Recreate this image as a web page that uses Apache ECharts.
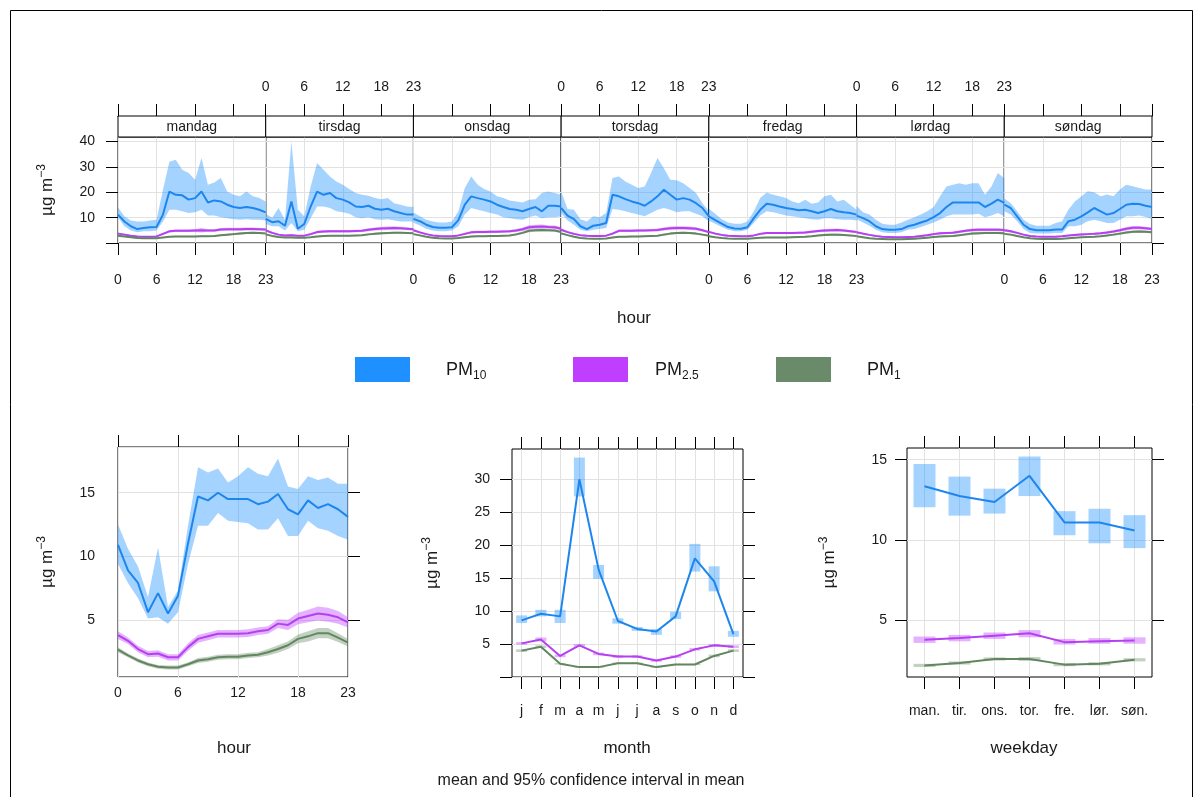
<!DOCTYPE html>
<html>
<head>
<meta charset="utf-8">
<title>timeVariation PM</title>
<script src="https://cdn.jsdelivr.net/npm/echarts@6/dist/echarts.min.js"></script>
<style>
html,body{margin:0;padding:0;background:#fff}
#main{width:1203px;height:797px}
</style>
</head>
<body>
<div id="main"></div>
<script>
// ---- labels ----
var hours = ['0','1','2','3','4','5','6','7','8','9','10','11','12','13','14','15','16','17','18','19','20','21','22','23'];
var dayNames = ['mandag','tirsdag','onsdag','torsdag','fredag','lørdag','søndag'];
var monthLabels = ['j','f','m','a','m','j','j','a','s','o','n','d'];
var weekdayLabels = ['man.','tir.','ons.','tor.','fre.','lør.','søn.'];

// ---- day x hour, PM10 (mean, lower, upper) ----
var pm10Day = [
  [11.2,8.5,6.6,5.5,5.9,6.2,6.3,11.2,20.3,19.0,18.8,17.1,17.7,20.3,16.0,16.8,16.4,15.1,14.2,13.8,14.2,13.8,13.1,12.1],
  [9.5,8.2,8.6,6.8,16.4,5.6,7.5,14.4,20.3,19.0,19.7,17.7,17.1,16.0,14.4,14.2,14.7,13.5,13.1,13.5,12.5,11.8,11.2,11.2],
  [9.5,8.6,7.2,6.3,6.0,6.0,6.2,9.0,15.1,18.4,17.7,17.1,16.4,15.1,14.2,13.4,13.1,12.5,13.4,14.2,12.5,14.7,14.7,14.4],
  [13.8,10.8,9.4,6.6,5.5,6.8,7.2,7.9,19.0,18.4,17.3,16.4,15.7,14.7,16.4,18.4,21.0,19.0,17.1,17.7,17.1,15.7,13.8,10.5],
  [10.5,9.0,7.6,6.3,5.7,5.6,6.2,9.8,13.1,15.5,15.1,14.4,13.8,13.4,12.9,13.1,12.5,11.8,12.5,13.4,12.5,12.1,11.8,11.2],
  [10.8,9.8,8.6,6.6,5.5,5.2,5.2,5.5,6.6,7.2,8.1,8.9,10.2,11.8,14.2,16.0,16.0,16.0,16.0,16.0,14.2,15.5,17.1,15.8],
  [15.1,13.8,10.5,7.2,5.5,5.0,5.0,5.0,5.3,5.3,8.6,9.2,10.5,12.1,13.8,12.5,11.2,11.8,13.4,15.1,15.5,15.4,14.7,14.2]
];
var pm10DayLo = [
  [10.2,6.6,4.9,4.2,4.6,4.6,4.9,8.5,13.1,13.1,12.5,11.8,12.1,13.1,10.8,10.8,10.2,9.8,9.4,9.2,9.4,9.2,9.2,8.9],
  [7.5,6.6,6.6,4.9,7.9,4.6,5.2,9.8,14.4,14.4,13.8,12.5,12.1,11.5,10.2,9.8,10.2,9.4,9.2,9.4,8.9,8.5,8.5,8.5],
  [8.0,6.9,5.6,4.9,4.6,4.6,4.9,6.6,11.2,13.8,13.1,12.5,11.8,11.2,10.2,9.8,9.4,9.2,10.2,10.8,9.8,10.2,10.2,10.5],
  [11.8,8.9,7.2,5.2,4.6,5.2,5.5,5.9,13.4,13.1,12.5,11.8,11.2,10.5,11.8,13.1,13.8,13.1,12.1,12.5,12.5,11.5,10.5,8.5],
  [8.8,7.6,6.3,5.2,4.6,4.6,5.2,7.9,10.8,12.5,12.1,11.5,10.8,10.5,10.2,9.8,9.4,9.2,9.8,9.8,9.4,9.2,9.2,8.9],
  [9.4,8.1,6.8,5.2,4.2,3.9,3.9,4.2,5.2,5.5,6.3,7.2,8.1,9.2,10.5,11.2,11.2,11.2,11.2,11.5,10.2,10.8,11.8,10.5],
  [12.5,11.2,8.6,5.5,3.9,3.7,3.7,3.7,3.9,3.9,6.6,6.6,7.2,8.6,9.2,8.6,7.9,7.9,9.2,10.5,10.5,10.8,10.3,9.5]
];
var pm10DayHi = [
  [14.0,10.5,8.9,8.5,8.5,8.9,9.2,21.0,32.0,32.8,28.9,27.6,24.9,33.5,23.0,23.9,25.6,20.3,19.0,18.4,20.3,18.4,17.7,16.4],
  [11.5,10.0,13.8,9.2,40.0,13.1,10.5,22.3,31.5,28.9,26.2,24.3,23.0,21.3,19.7,19.0,18.6,17.7,17.3,17.7,15.7,15.1,14.4,14.2],
  [12.0,10.5,9.2,8.5,8.1,8.1,8.5,12.5,21.7,26.2,23.0,21.3,20.3,18.4,17.7,16.8,16.4,16.0,17.1,17.3,19.7,20.3,19.7,19.0],
  [20.3,13.4,13.1,9.4,8.5,10.5,10.2,11.8,25.6,26.2,24.3,23.0,21.7,22.3,27.6,33.5,29.5,24.9,24.7,23.6,21.7,19.7,15.7,12.5],
  [13.5,11.5,9.4,8.1,7.6,7.6,8.5,12.5,17.7,19.9,19.0,18.4,17.7,16.4,15.7,17.1,15.5,16.0,18.4,19.0,16.4,17.1,15.1,13.1],
  [14.7,12.1,11.2,9.2,7.6,7.2,7.2,8.1,9.2,10.2,11.2,12.5,14.2,18.4,22.3,23.0,23.6,23.0,23.6,23.6,19.0,22.3,27.6,25.5],
  [17.5,15.8,12.5,9.2,7.5,6.8,6.8,6.8,7.9,8.6,13.2,16.4,18.4,20.4,20.0,18.4,19.1,18.4,21.1,23.0,22.4,21.7,21.1,21.1]
];

// ---- day x hour, PM2.5 and PM1 (mean and half width of interval) ----
var pm25Day = [
  [3.7,3.3,2.9,2.6,2.5,2.5,2.6,3.6,4.6,4.8,4.8,4.8,4.9,5.0,4.9,4.9,5.3,5.4,5.4,5.4,5.5,5.5,5.4,5.3],
  [5.0,4.0,3.3,3.0,3.1,2.9,2.9,3.5,4.3,4.5,4.6,4.6,4.6,4.6,4.7,4.8,5.2,5.5,5.7,5.8,5.9,5.8,5.6,5.4],
  [5.0,4.2,3.5,3.0,2.8,2.7,2.7,3.0,3.6,4.2,4.3,4.3,4.4,4.4,4.5,4.6,4.9,5.4,6.2,6.4,6.5,6.3,6.2,5.6],
  [5.2,4.3,3.6,3.1,2.9,2.8,2.8,2.9,3.7,4.8,4.8,4.8,4.9,4.9,5.0,5.1,5.5,5.8,5.9,5.9,5.8,5.6,5.0,4.3],
  [4.4,3.7,3.2,2.9,2.8,2.7,2.7,3.0,3.6,3.9,3.9,3.9,3.9,3.9,4.0,4.1,4.4,4.7,4.9,5.0,5.1,4.9,4.6,4.3],
  [4.2,3.7,3.2,2.8,2.5,2.4,2.3,2.3,2.4,2.5,2.8,3.1,3.5,3.8,3.9,4.0,4.4,4.8,5.1,5.2,5.2,5.2,5.2,5.1],
  [5.0,4.6,4.0,3.3,2.8,2.6,2.5,2.5,2.5,2.7,3.0,3.2,3.4,3.5,3.6,3.8,4.1,4.5,5.0,5.6,6.0,6.0,5.8,5.5]
];
var pm25DayHalf = [
  [0.4,0.3,0.3,0.3,0.3,0.3,0.3,0.4,0.5,0.5,0.5,0.5,0.6,0.9,0.5,0.5,0.6,0.6,0.6,0.6,0.6,0.6,0.5,0.5],
  [0.5,0.4,0.3,0.3,0.4,0.3,0.3,0.4,0.5,0.5,0.5,0.5,0.5,0.5,0.5,0.5,0.6,0.6,0.7,0.7,0.7,0.6,0.6,0.5],
  [0.5,0.4,0.3,0.3,0.3,0.3,0.3,0.3,0.4,0.5,0.5,0.5,0.5,0.5,0.5,0.5,0.6,0.7,0.8,0.8,0.8,0.7,0.7,0.6],
  [0.5,0.4,0.4,0.3,0.3,0.3,0.3,0.3,0.4,0.5,0.5,0.5,0.5,0.5,0.5,0.6,0.6,0.7,0.7,0.7,0.7,0.6,0.5,0.5],
  [0.4,0.4,0.3,0.3,0.3,0.3,0.3,0.3,0.4,0.4,0.4,0.4,0.4,0.4,0.4,0.5,0.5,0.5,0.6,0.6,0.6,0.5,0.5,0.4],
  [0.4,0.4,0.3,0.3,0.3,0.3,0.3,0.3,0.3,0.3,0.3,0.4,0.4,0.4,0.4,0.5,0.5,0.5,0.6,0.6,0.6,0.6,0.6,0.5],
  [0.5,0.5,0.4,0.3,0.3,0.3,0.3,0.3,0.3,0.3,0.3,0.4,0.4,0.4,0.4,0.4,0.5,0.5,0.6,0.7,0.7,0.7,0.6,0.6]
];
var pm1Day = [
  [2.9,2.6,2.3,2.0,1.9,1.9,1.9,2.2,2.5,2.6,2.6,2.6,2.6,2.7,2.7,2.8,3.1,3.3,3.5,3.7,3.9,4.0,3.9,3.7],
  [3.4,2.8,2.4,2.2,2.2,2.1,2.1,2.3,2.6,2.8,2.9,2.9,2.9,2.9,3.0,3.1,3.4,3.6,3.8,3.9,4.0,4.0,3.9,3.8],
  [3.5,3.0,2.5,2.1,1.9,1.8,1.8,2.0,2.3,2.6,2.7,2.7,2.8,2.8,2.9,3.0,3.4,4.0,4.8,5.0,5.1,5.0,4.9,4.3],
  [3.8,3.1,2.5,2.0,1.8,1.7,1.7,1.8,2.2,2.5,2.5,2.6,2.6,2.7,2.8,2.9,3.3,3.7,3.9,4.0,3.9,3.7,3.3,2.9],
  [2.7,2.3,2.0,1.8,1.7,1.7,1.7,1.9,2.1,2.2,2.2,2.2,2.2,2.3,2.4,2.5,2.7,3.0,3.2,3.3,3.3,3.2,3.0,2.8],
  [2.7,2.3,1.9,1.7,1.6,1.5,1.5,1.5,1.6,1.7,1.9,2.1,2.4,2.6,2.7,2.8,3.1,3.4,3.7,3.8,3.9,3.9,3.9,3.8],
  [3.6,3.3,2.8,2.3,1.9,1.7,1.6,1.6,1.6,1.7,1.9,2.1,2.3,2.4,2.5,2.7,3.0,3.3,3.7,4.1,4.4,4.5,4.4,4.2]
];
var pm1DayHalf = [
  [0.3,0.2,0.2,0.2,0.2,0.2,0.2,0.2,0.3,0.3,0.3,0.3,0.3,0.3,0.3,0.3,0.3,0.3,0.4,0.4,0.4,0.4,0.4,0.3],
  [0.3,0.3,0.2,0.2,0.2,0.2,0.2,0.2,0.3,0.3,0.3,0.3,0.3,0.3,0.3,0.3,0.3,0.4,0.4,0.4,0.4,0.4,0.4,0.3],
  [0.3,0.3,0.2,0.2,0.2,0.2,0.2,0.2,0.3,0.3,0.3,0.3,0.3,0.3,0.3,0.3,0.4,0.5,0.6,0.6,0.6,0.5,0.5,0.4],
  [0.4,0.3,0.3,0.2,0.2,0.2,0.2,0.2,0.3,0.3,0.3,0.3,0.3,0.3,0.3,0.3,0.4,0.4,0.4,0.4,0.4,0.4,0.3,0.3],
  [0.3,0.2,0.2,0.2,0.2,0.2,0.2,0.2,0.2,0.3,0.3,0.3,0.3,0.3,0.3,0.3,0.3,0.3,0.4,0.4,0.4,0.3,0.3,0.3],
  [0.3,0.2,0.2,0.2,0.2,0.2,0.2,0.2,0.2,0.2,0.2,0.2,0.3,0.3,0.3,0.3,0.3,0.4,0.4,0.4,0.4,0.4,0.4,0.4],
  [0.4,0.3,0.3,0.2,0.2,0.2,0.2,0.2,0.2,0.2,0.2,0.2,0.3,0.3,0.3,0.3,0.3,0.4,0.4,0.5,0.5,0.5,0.5,0.4]
];

// ---- hour of day ----
var pm10Hour   = [10.9,8.9,7.9,5.6,7.1,5.5,6.9,11.0,14.7,14.4,15.0,14.5,14.5,14.5,14.1,14.3,14.9,13.7,13.3,14.4,13.8,14.1,13.7,13.1];
var pm10HourLo = [9.4,7.9,6.7,5.1,5.2,4.7,5.6,9.4,12.4,12.4,13.4,12.8,12.7,12.6,12.1,12.1,13.0,11.6,11.6,12.8,12.2,12.0,11.6,11.3];
var pm10HourHi = [12.5,10.6,9.2,6.8,10.7,6.0,7.3,12.4,17.0,16.6,16.9,15.8,16.3,17.0,16.5,16.3,17.7,15.5,15.3,16.3,16.0,16.2,15.7,15.7];
var pm25Hour     = [3.8,3.35,2.7,2.3,2.35,2.05,2.05,2.85,3.5,3.7,3.9,3.9,3.9,3.95,4.1,4.2,4.7,4.6,5.1,5.3,5.5,5.4,5.2,4.8];
var pm25HourHalf = [0.3,0.25,0.25,0.25,0.25,0.25,0.25,0.3,0.3,0.3,0.3,0.3,0.3,0.3,0.3,0.3,0.35,0.4,0.45,0.5,0.55,0.55,0.5,0.4];
var pm1Hour     = [2.65,2.2,1.8,1.5,1.3,1.25,1.25,1.5,1.8,1.9,2.05,2.1,2.1,2.2,2.25,2.45,2.7,3.0,3.5,3.7,3.95,3.95,3.6,3.2];
var pm1HourHalf = [0.2,0.15,0.15,0.15,0.15,0.15,0.15,0.15,0.2,0.2,0.2,0.2,0.2,0.2,0.2,0.25,0.3,0.3,0.35,0.4,0.4,0.4,0.35,0.3];

// ---- month ----
var pm10Month   = [8.6,9.6,9.2,30.0,16.3,8.5,7.3,6.9,9.2,18.0,14.5,6.5];
var pm10MonthLo = [8.2,9.2,8.2,27.4,14.9,8.1,7.0,6.4,8.8,16.0,13.0,6.1];
var pm10MonthHi = [9.35,10.2,10.2,33.3,17.0,8.9,7.6,7.3,9.9,20.2,16.8,7.0];
var pm25Month   = [5.1,5.7,3.2,4.8,3.5,3.1,3.1,2.5,3.1,4.2,4.8,4.6];
var pm25MonthLo = [4.9,5.4,3.0,4.6,3.3,2.9,2.9,2.3,2.9,4.0,4.6,4.4];
var pm25MonthHi = [5.3,6.0,3.4,5.0,3.7,3.3,3.3,2.7,3.3,4.4,5.0,4.8];
var pm1Month    = [4.0,4.6,2.0,1.5,1.5,2.1,2.1,1.5,1.9,1.9,3.2,4.0];
var pm1MonthLo  = [3.8,4.4,1.9,1.4,1.4,2.0,2.0,1.4,1.8,1.8,3.0,3.8];
var pm1MonthHi  = [4.2,4.8,2.1,1.6,1.6,2.2,2.2,1.6,2.0,2.0,3.4,4.2];

// ---- weekday ----
var pm10Wd   = [13.35,12.74,12.37,14.0,11.1,11.1,10.6];
var pm10WdLo = [12.05,11.52,11.65,12.74,10.3,9.8,9.5];
var pm10WdHi = [14.73,13.95,13.2,15.2,11.8,11.95,11.55];
var pm25Wd   = [3.8,3.9,4.05,4.2,3.65,3.7,3.75];
var pm25WdLo = [3.6,3.7,3.85,3.95,3.5,3.55,3.55];
var pm25WdHi = [4.0,4.1,4.25,4.4,3.85,3.9,3.95];
var pm1Wd    = [2.2,2.35,2.6,2.6,2.25,2.3,2.55];
var pm1WdLo  = [2.1,2.25,2.5,2.48,2.15,2.2,2.45];
var pm1WdHi  = [2.3,2.45,2.7,2.72,2.35,2.4,2.65];

// ---- styling ----
var FONT = 'Liberation Sans, Arial, sans-serif';
var TXT = '#1a1a1a';
var GRIDC = '#e2e2e2';
var LINEC = {pm10:'#1d86ee', pm25:'#b540f0', pm1:'#62865f'};
var BANDC = {pm10:'rgba(30,144,255,0.4)', pm25:'rgba(191,62,255,0.4)', pm1:'rgba(105,139,105,0.4)'};
var NOLINE = {show:false, onZero:false};

var grids = [], xAxes = [], yAxes = [], series = [], graphics = [];

function every6(i){ return i % 6 === 0 || i === 23; }
function lab(extra){
	var o = {fontSize:14, color:TXT, fontFamily:FONT};
	for (var k in extra) o[k] = extra[k];
	return o;
}
function range(n){ var a=[]; for(var i=0;i<n;i++) a.push(i); return a; }
var yName = '{a|µg m}{s|−3}';
var yNameStyle = {fontSize:17, color:TXT, fontFamily:FONT,
	rich:{a:{fontSize:17, fontFamily:FONT, color:TXT, lineHeight:22, verticalAlign:'middle'},
	      s:{fontSize:12, fontFamily:FONT, color:TXT, lineHeight:22, verticalAlign:'top'}}};

function addBand(xi, yi, lo, hi, color){
	var st = 'band' + series.length;
	series.push({type:'line', xAxisIndex:xi, yAxisIndex:yi, data:lo, stack:st, symbol:'none',
		lineStyle:{width:0, opacity:0}, silent:true, z:2});
	series.push({type:'line', xAxisIndex:xi, yAxisIndex:yi,
		data: hi.map(function(v,i){ return +(v - lo[i]).toFixed(3); }),
		stack:st, symbol:'none', lineStyle:{width:0, opacity:0}, areaStyle:{color:color, opacity:1}, silent:true, z:2});
}
function addLine(xi, yi, data, color){
	series.push({type:'line', xAxisIndex:xi, yAxisIndex:yi, data:data, symbol:'none',
		lineStyle:{width:2, color:color}, silent:true, z:3});
}
function addBoxes(xi, yi, lo, hi, color, w){
	series.push({type:'custom', xAxisIndex:xi, yAxisIndex:yi,
		data: lo.map(function(v,i){ return [i, v, hi[i]]; }),
		encode:{x:0, y:[1,2]}, silent:true, z:2,
		renderItem:function(params, api){
			var a = api.coord([api.value(0), api.value(1)]);
			var b = api.coord([api.value(0), api.value(2)]);
			return {type:'rect', shape:{x:a[0]-w/2, y:b[1], width:w, height:a[1]-b[1]}, style:{fill:color}};
		}});
}
function minusHalf(m, h){ return m.map(function(v,i){ return +(v - h[i]).toFixed(3); }); }
function plusHalf(m, h){ return m.map(function(v,i){ return +(v + h[i]).toFixed(3); }); }
function pairs(arr){ return arr.map(function(v,i){ return [i, v]; }); }

// ================= top: hour by day of week =================
var dayW = 1034 / 7;
for (var d = 0; d < 7; d++) {
	var left = 118 + d * dayW;
	grids.push({left:left, top:137, width:dayW, height:106, show:true, borderColor:'#000', borderWidth:1});
	var gi = grids.length - 1;
	xAxes.push({type:'category', gridIndex:gi, data:hours, boundaryGap:false,
		axisLine:NOLINE,
		axisTick:{show:true, interval:every6, length:12, lineStyle:{color:'#000'}},
		axisLabel:lab({show:d % 2 === 0, interval:every6, margin:30}),
		splitLine:{show:true, interval:every6, lineStyle:{color:GRIDC}}});
	var xi = xAxes.length - 1;
	xAxes.push({type:'category', gridIndex:gi, data:hours, boundaryGap:false, position:'top', offset:21,
		axisLine:{show:true, onZero:false, lineStyle:{color:'#000'}},
		axisTick:{show:true, interval:every6, length:12, lineStyle:{color:'#000'}},
		axisLabel:lab({show:d % 2 === 1, interval:every6, margin:22}),
		splitLine:{show:false}});
	yAxes.push({type:'value', gridIndex:gi, min:0, max:41.8, splitNumber:4,
		position: d === 6 ? 'right' : 'left',
		axisLine:NOLINE,
		axisTick:{show: d === 0 || d === 6, length:12, customValues:[0,10,20,30,40], lineStyle:{color:'#000'}},
		axisLabel:lab({show: d === 0, customValues:[10,20,30,40], margin:23}),
		splitLine:{show:true, lineStyle:{color:GRIDC}},
		name: d === 0 ? yName : '', nameLocation:'middle', nameRotate:90, nameGap:60, nameTextStyle:yNameStyle});
	var yi = yAxes.length - 1;

	addBand(xi, yi, pm10DayLo[d], pm10DayHi[d], BANDC.pm10);
	addBand(xi, yi, minusHalf(pm25Day[d], pm25DayHalf[d]), plusHalf(pm25Day[d], pm25DayHalf[d]), BANDC.pm25);
	addBand(xi, yi, minusHalf(pm1Day[d], pm1DayHalf[d]), plusHalf(pm1Day[d], pm1DayHalf[d]), BANDC.pm1);
	addLine(xi, yi, pm10Day[d], LINEC.pm10);
	addLine(xi, yi, pm25Day[d], LINEC.pm25);
	addLine(xi, yi, pm1Day[d], LINEC.pm1);

	// strip with day name
	graphics.push({type:'rect', shape:{x:left, y:116, width:dayW, height:21},
		style:{fill:'#fff', stroke:'#000', lineWidth:1}, z:5});
	graphics.push({type:'text', x:left + dayW / 2, y:127, z:6,
		style:{text:dayNames[d], fontSize:14, fontFamily:FONT, fill:TXT,
			align:'center', verticalAlign:'middle', textAlign:'center', textVerticalAlign:'middle'}});
}

// ================= bottom left: hour =================
grids.push({left:118, top:447, width:230, height:230, show:true, borderColor:'#000', borderWidth:1});
var gH = grids.length - 1;
xAxes.push({type:'category', gridIndex:gH, data:hours, boundaryGap:false,
	axisLine:NOLINE, axisTick:{show:false},
	axisLabel:lab({interval:every6, margin:9}),
	splitLine:{show:true, interval:every6, lineStyle:{color:GRIDC}}});
var xH = xAxes.length - 1;
xAxes.push({type:'category', gridIndex:gH, data:hours, boundaryGap:false, position:'top',
	axisLine:NOLINE, axisTick:{show:true, interval:every6, length:12, lineStyle:{color:'#000'}},
	axisLabel:{show:false}, splitLine:{show:false}});
yAxes.push({type:'value', gridIndex:gH, min:0.5, max:18.6, splitNumber:4, position:'left',
	axisLine:NOLINE, axisTick:{show:false},
	axisLabel:lab({customValues:[5,10,15], margin:23}),
	splitLine:{show:true, lineStyle:{color:GRIDC}},
	name:yName, nameLocation:'middle', nameRotate:90, nameGap:60, nameTextStyle:yNameStyle});
var yH = yAxes.length - 1;
yAxes.push({type:'value', gridIndex:gH, min:0.5, max:18.6, splitNumber:4, position:'right',
	axisLine:NOLINE, axisTick:{show:true, length:12, customValues:[5,10,15], lineStyle:{color:'#000'}},
	axisLabel:{show:false}, splitLine:{show:false}});

addBand(xH, yH, pm10HourLo, pm10HourHi, BANDC.pm10);
addBand(xH, yH, minusHalf(pm25Hour, pm25HourHalf), plusHalf(pm25Hour, pm25HourHalf), BANDC.pm25);
addBand(xH, yH, minusHalf(pm1Hour, pm1HourHalf), plusHalf(pm1Hour, pm1HourHalf), BANDC.pm1);
addLine(xH, yH, pm10Hour, LINEC.pm10);
addLine(xH, yH, pm25Hour, LINEC.pm25);
addLine(xH, yH, pm1Hour, LINEC.pm1);

// ================= bottom middle / right: month, weekday =================
function catPanel(left, top, width, height, n, labels, ymin, ymax, ysplit, yticks, ylabels, lblMargin, nameGap){
	grids.push({left:left, top:top, width:width, height:height, show:true, borderColor:'#000', borderWidth:1});
	var g = grids.length - 1;
	xAxes.push({type:'value', gridIndex:g, min:-0.5, max:n - 0.5, splitNumber:n,
		axisLine:NOLINE,
		axisTick:{show:true, length:12, customValues:range(n), lineStyle:{color:'#000'}},
		axisLabel:lab({customValues:range(n), margin:27, formatter:function(v){ return labels[Math.round(v)]; }}),
		splitLine:{show:true, lineStyle:{color:GRIDC}}});
	var x = xAxes.length - 1;
	xAxes.push({type:'value', gridIndex:g, min:-0.5, max:n - 0.5, splitNumber:n, position:'top',
		axisLine:NOLINE,
		axisTick:{show:true, length:12, customValues:range(n), lineStyle:{color:'#000'}},
		axisLabel:{show:false}, splitLine:{show:false}});
	yAxes.push({type:'value', gridIndex:g, min:ymin, max:ymax, splitNumber:ysplit, position:'left',
		axisLine:NOLINE,
		axisTick:{show:true, length:12, customValues:yticks, lineStyle:{color:'#000'}},
		axisLabel:lab({customValues:ylabels, margin:lblMargin}),
		splitLine:{show:true, lineStyle:{color:GRIDC}},
		name:yName, nameLocation:'middle', nameRotate:90, nameGap:nameGap, nameTextStyle:yNameStyle});
	var y = yAxes.length - 1;
	yAxes.push({type:'value', gridIndex:g, min:ymin, max:ymax, splitNumber:ysplit, position:'right',
		axisLine:NOLINE,
		axisTick:{show:true, length:12, customValues:yticks, lineStyle:{color:'#000'}},
		axisLabel:{show:false}, splitLine:{show:false}});
	return [x, y];
}

var mAx = catPanel(512, 449, 231, 228, 12, monthLabels, 0, 34.6, 7,
	[0,5,10,15,20,25,30], [5,10,15,20,25,30], 22, 69);
addBoxes(mAx[0], mAx[1], pm10MonthLo, pm10MonthHi, BANDC.pm10, 11);
addBoxes(mAx[0], mAx[1], pm25MonthLo, pm25MonthHi, BANDC.pm25, 11);
addBoxes(mAx[0], mAx[1], pm1MonthLo, pm1MonthHi, BANDC.pm1, 11);
addLine(mAx[0], mAx[1], pairs(pm10Month), LINEC.pm10);
addLine(mAx[0], mAx[1], pairs(pm25Month), LINEC.pm25);
addLine(mAx[0], mAx[1], pairs(pm1Month), LINEC.pm1);

var wAx = catPanel(907, 448, 245, 229, 7, weekdayLabels, 1.48, 15.73, 3,
	[5,10,15], [5,10,15], 20, 67);
addBoxes(wAx[0], wAx[1], pm10WdLo, pm10WdHi, BANDC.pm10, 22);
addBoxes(wAx[0], wAx[1], pm25WdLo, pm25WdHi, BANDC.pm25, 22);
addBoxes(wAx[0], wAx[1], pm1WdLo, pm1WdHi, BANDC.pm1, 22);
addLine(wAx[0], wAx[1], pairs(pm10Wd), LINEC.pm10);
addLine(wAx[0], wAx[1], pairs(pm25Wd), LINEC.pm25);
addLine(wAx[0], wAx[1], pairs(pm1Wd), LINEC.pm1);

// ================= titles, legend, frame =================
function txt(s, x, y, size){
	graphics.push({type:'text', x:x, y:y, z:6,
		style:{text:s, fontSize:size, fontFamily:FONT, fill:TXT,
			align:'center', verticalAlign:'middle', textAlign:'center', textVerticalAlign:'middle'}});
}
txt('hour', 634, 318, 17);
txt('hour', 234, 748, 17);
txt('month', 627, 748, 17);
txt('weekday', 1024, 748, 17);
txt('mean and 95% confidence interval in mean', 591, 781, 16);

var legendItems = [
	{key:'pm10', name:'PM', sub:'10', rx:355, tx:446},
	{key:'pm25', name:'PM', sub:'2.5', rx:573, tx:655},
	{key:'pm1',  name:'PM', sub:'1',   rx:776, tx:867}
];
var legendFill = {pm10:'#1E90FF', pm25:'#BF3EFF', pm1:'#698B69'};
legendItems.forEach(function(it){
	graphics.push({type:'rect', shape:{x:it.rx, y:357, width:55, height:25}, style:{fill:legendFill[it.key]}, z:6});
	graphics.push({type:'text', x:it.tx, y:370, z:6,
		style:{text:'{a|' + it.name + '}{b|' + it.sub + '}',
			align:'left', verticalAlign:'middle', textAlign:'left', textVerticalAlign:'middle',
			rich:{a:{fontSize:18, fontFamily:FONT, fill:TXT, color:TXT, lineHeight:24, verticalAlign:'middle'},
			      b:{fontSize:12, fontFamily:FONT, fill:TXT, color:TXT, lineHeight:24, verticalAlign:'bottom'}}}});
});

graphics.push({type:'rect', shape:{x:10.5, y:10.5, width:1182, height:820},
	style:{fill:null, stroke:'#000', lineWidth:1}, z:0, silent:true});

var myChart = echarts.init(document.getElementById('main'), null, {renderer:'canvas'});
myChart.setOption({
	backgroundColor:'#fff',
	animation:false,
	textStyle:{fontFamily:FONT},
	grid:grids,
	xAxis:xAxes,
	yAxis:yAxes,
	series:series,
	graphic:{elements:graphics}
});
</script>
</body>
</html>
